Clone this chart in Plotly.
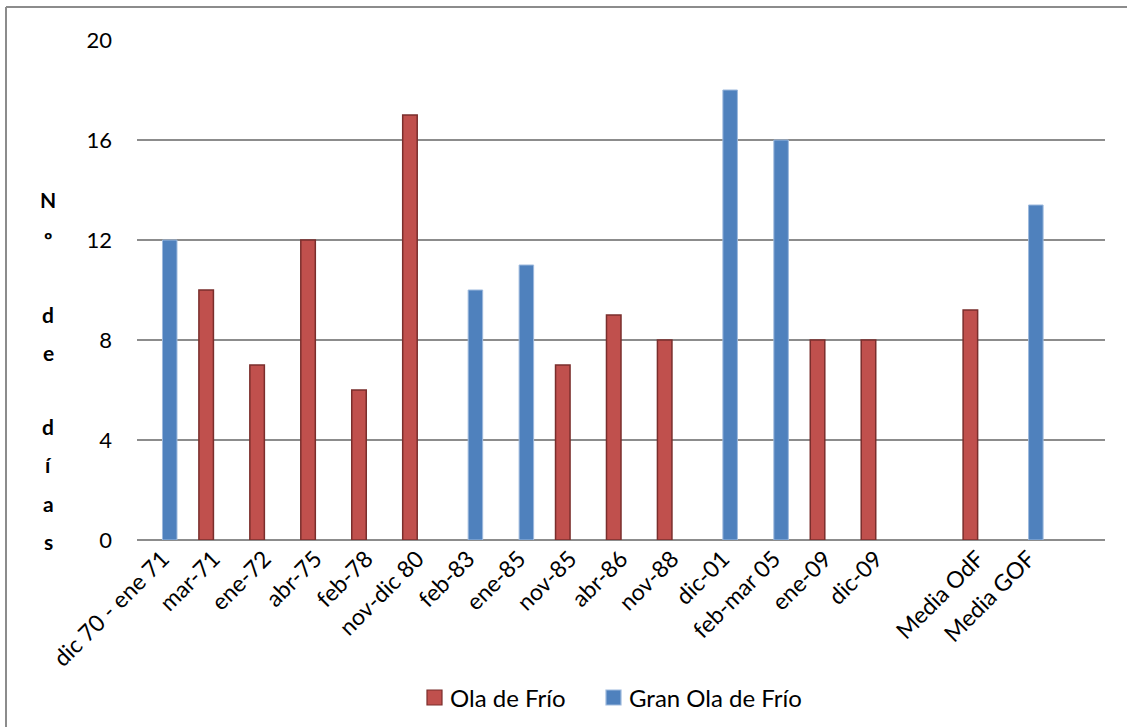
import plotly.graph_objects as go

# Episodes (blank slots keep the spacing before and after the averages)
categorias = ["dic 70 - ene 71", "mar-71", "ene-72", "abr-75", "feb-78",
              "nov-dic 80", "feb-83", "ene-85", "nov-85", "abr-86", "nov-88",
              "dic-01", "feb-mar 05", "ene-09", "dic-09", " ",
              "Media OdF", "Media GOF", "  "]

# Number of days per episode
ola_de_frio = [None, 10, 7, 12, 6, 17, None, None, 7, 9, 8,
               None, None, 8, 8, None, 9.2, None, None]
gran_ola_de_frio = [12, None, None, None, None, None, 10, 11, None, None, None,
                    18, 16, None, None, None, None, 13.4, None]

series_names = ["Ola de Frío", "Gran Ola de Frío"]
y_ticks = [0, 4, 8, 12, 16, 20]
y_title_chars = ["N", "º", "d", "e", "d", "í", "a", "s"]

FONT = "Lato, Calibri, Carlito, sans-serif"
RED, RED_EDGE = "#C0504D", "#7A2E2C"
BLUE, BLUE_EDGE = "#4F81BD", "#9DB9DD"

fig = go.Figure()
fig.add_trace(go.Bar(
    name=series_names[0], x=categorias, y=ola_de_frio,
    marker=dict(color=RED, line=dict(color=RED_EDGE, width=1.5)),
))
fig.add_trace(go.Bar(
    name=series_names[1], x=categorias, y=gran_ola_de_frio,
    marker=dict(color=BLUE, line=dict(color=BLUE_EDGE, width=1)),
))

# plot area: x 137..1105, y 40..540 in page pixels
L, R, T, B = 137, 22, 40, 187
W, H = 1127, 727
pw, ph = W - L - R, H - T - B

def px_x(px):
    return (px - L) / pw

def px_y(py):
    return (H - B - py) / ph

fig.update_layout(
    width=W, height=H,
    margin=dict(l=L, r=R, t=T, b=B, autoexpand=False),
    paper_bgcolor="white", plot_bgcolor="white",
    barmode="group", bargap=0.43, bargroupgap=0,
    font=dict(family=FONT, size=22, color="black"),
    showlegend=False,
    xaxis=dict(type="category", categoryorder="array", categoryarray=categorias,
               tickangle=-45, showgrid=False, showline=False, ticks="",
               tickfont=dict(family=FONT, size=23), range=[-0.5, 18.5],
               automargin=False),
    yaxis=dict(range=[0, 20], tickvals=y_ticks, showgrid=True,
               gridcolor="#8C8C8C", gridwidth=1.5, zeroline=True,
               zerolinecolor="#8C8C8C", zerolinewidth=1.5, showline=False,
               ticks="", ticklabelstandoff=24, automargin=False,
               tickfont=dict(family=FONT, size=22)),
)

# Vertical stacked axis title
ys = [200, 239, 314, 352, 426, 464, 503, 541]
for ch, py in zip(y_title_chars, ys):
    fig.add_annotation(text="<b>%s</b>" % ch, x=px_x(48), y=px_y(py),
                       xref="paper", yref="paper", showarrow=False,
                       xanchor="center", yanchor="middle",
                       font=dict(family=FONT, size=21, color="black"))

# Legend: colour key squares with labels below the axis
legend_items = [(series_names[0], RED, RED_EDGE, 427),
                (series_names[1], BLUE, BLUE_EDGE, 606)]
for name, fill, edge, x0 in legend_items:
    fig.add_shape(type="rect", xref="paper", yref="paper",
                  x0=px_x(x0), x1=px_x(x0 + 15), y0=px_y(705), y1=px_y(690),
                  fillcolor=fill, line=dict(color=edge, width=1.2))
    fig.add_annotation(text=name, x=px_x(x0 + 21), y=px_y(697),
                       xref="paper", yref="paper", showarrow=False,
                       xanchor="left", yanchor="middle",
                       font=dict(family=FONT, size=24, color="black"))

# Chart frame
frame = dict(type="line", xref="paper", yref="paper",
             line=dict(color="#8C8C8C", width=2))
fig.add_shape(**frame, x0=px_x(6), x1=px_x(6), y0=px_y(7), y1=px_y(740))
fig.add_shape(**frame, x0=px_x(6), x1=px_x(1140), y0=px_y(7), y1=px_y(7))

fig.write_html("out.html")
